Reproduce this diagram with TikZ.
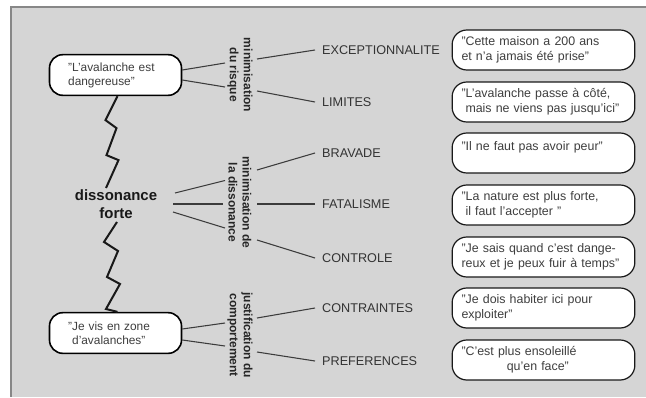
\documentclass[tikz,border=0pt]{standalone}
\usepackage{fontspec}
\setmainfont{Liberation Sans}
\usetikzlibrary{calc}

\definecolor{fondgris}{RGB}{213,213,213}
\definecolor{cadregris}{RGB}{135,135,135}
\definecolor{textegris}{RGB}{62,62,62}
\definecolor{traitgris}{RGB}{60,60,60}

\tikzset{every picture/.style={line width=0.75pt}}
\tikzset{
  bulle/.style={draw=black, fill=white, line width=1.2pt, rounded corners=10pt,
    text width=71pt, inner xsep=14pt, minimum height=30.5pt, align=left,
    text=textegris, font=\fontsize{8.9}{10.5}\selectfont},
  citation/.style={draw=black!90, fill=white, line width=0.9pt, rounded corners=11pt,
    text width=123pt, inner xsep=7pt, minimum height=30pt, align=left,
    text=textegris, font=\fontsize{9.3}{11}\selectfont},
  axe/.style={rotate=-90, align=center, inner sep=0.75pt, text=black!85,
    font=\fontsize{9}{10.5}\selectfont\bfseries},
  categorie/.style={anchor=west, inner xsep=5pt, inner ysep=0.75pt, text=black!80,
    font=\fontsize{9.5}{11}\selectfont},
  lien/.style={draw=traitgris, line width=0.8pt},
  zigzag/.style={draw=black!90, line width=1.5pt, line join=miter},
}

\begin{document}
\begin{tikzpicture}[x=0.75pt,y=0.75pt,yscale=-1,xscale=1]
\useasboundingbox (0,0) rectangle (646,397);

%Background and frame
\fill [fondgris] (11,7) rectangle (646,397);
\draw [cadregris, line width=1.5pt] (646,7) -- (11,7) -- (11,397);

% Left bubbles
\draw (115.5,75) node [bulle] (lav) {"L'avalanche est\\dangereuse"};
\draw (115.5,333) node [bulle] (zone) {"Je vis en zone\\\hspace*{3pt}d'avalanches"};
% Text Node
\draw (116,204) node [align=center, inner sep=0.75pt, text=black!90,
  font=\fontsize{11.2}{13.5}\selectfont\bfseries] (diss) {dissonance\\forte};

% Vertical labels
\draw (240,75) node [axe] (risque) {minimisation\\du risque};
\draw (240,202.5) node [axe] (mindis) {minimisation de\\la dissonance};
\draw (240,335) node [axe] (justif) {justification du\\comportement};

% Categories
\draw (315,50) node [categorie] (exc) {EXCEPTIONNALITE};
\draw (315,102) node [categorie] (lim) {LIMITES};
\draw (315,153) node [categorie] (bra) {BRAVADE};
\draw (315,204) node [categorie] (fat) {FATALISME};
\draw (315,258) node [categorie] (ctl) {CONTROLE};
\draw (315,308) node [categorie] (ctr) {CONTRAINTES};
\draw (315,361) node [categorie] (pref) {PREFERENCES};

% Quotes
\draw (543.5,50) node [citation] (qexc) {"Cette maison a 200 ans\\et n'a jamais été prise"};
\draw (543.5,102) node [citation] (qlim) {"L'avalanche passe à côté,\\\hspace*{3pt}mais ne viens pas jusqu'ici"};
\draw (543.5,153) node [citation] (qbra) {"Il ne faut pas avoir peur"\\\mbox{}};
\draw (543.5,205) node [citation] (qfat) {"La nature est plus forte,\\\hspace*{3pt}il faut l'accepter "};
\draw (543.5,257) node [citation] (qctl) {"Je sais quand c'est dange-\\reux et je peux fuir à temps"};
\draw (543.5,308) node [citation] (qctr) {"Je dois habiter ici pour\\exploiter"};
\draw (543.5,360) node [citation] (qpref) {"C'est plus ensoleillé\\\hspace*{34pt}qu'en face"};

%Straight Lines
\draw [lien] ($(lav.east)+(0,-5)$) -- ($(risque)+(-15,-12)$);
\draw [lien] ($(lav.east)+(0,5)$) -- ($(risque)+(-15,12)$);
\draw [lien] ($(risque)+(17,-16)$) -- (exc.west);
\draw [lien] ($(risque)+(17,16)$) -- (lim.west);
%Straight Lines
\draw [lien] ($(diss)+(59,-11)$) -- ($(mindis)+(-15,-22)$);
\draw [lien] ($(diss)+(57,0)$) -- ($(mindis)+(-17,1.5)$);
\draw [lien] ($(diss)+(57,8)$) -- ($(mindis)+(-15,25.5)$);
\draw [lien] ($(mindis)+(17,-32.5)$) -- (bra.west);
\draw [lien] ($(mindis)+(17,1.5)$) -- (fat.west);
\draw [lien] ($(mindis)+(17,37.5)$) -- (ctl.west);
%Straight Lines
\draw [lien] ($(zone.east)+(0,-4)$) -- ($(justif)+(-15,-12)$);
\draw [lien] ($(zone.east)+(0,7)$) -- ($(justif)+(-15,11)$);
\draw [lien] ($(justif)+(17,-17)$) -- (ctr.west);
\draw [lien] ($(justif)+(17,17)$) -- (pref.west);

%Zigzags
\draw [zigzag] ($(lav.south)+(2,0)$) -- ++(-12,24) -- ++(11,8) -- ++(-10,27) -- ++(12,5)
  -- ($(diss.north)+(-10,0)$);
\draw [zigzag] ($(diss.south)+(1,2)$) -- ++(-13,20) -- ++(14,9) -- ++(-11,26) -- ++(13,7)
  -- ++(-14,25) -- ($(zone.north)+(2,0)$);

\end{tikzpicture}
\end{document}
